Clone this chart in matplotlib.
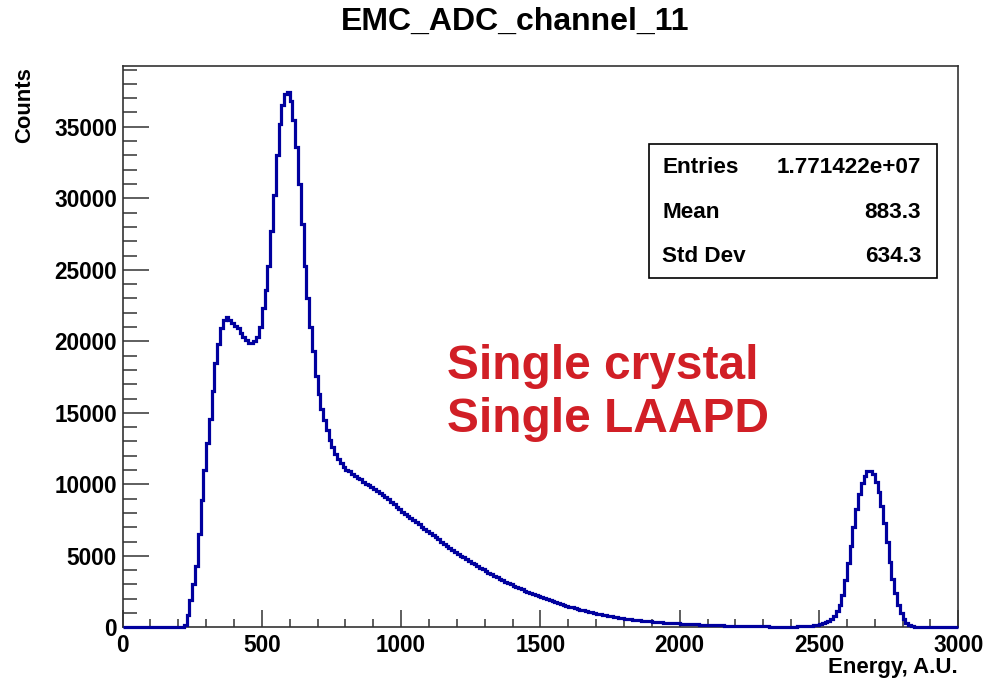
import numpy as np
import matplotlib.pyplot as plt
from matplotlib.patches import Rectangle
from matplotlib.ticker import MultipleLocator

# ADC spectrum, 10-unit bins from 0 to 3000 (one row = 100 units)
bin_width = 10
counts = [
    0, 0, 0, 0, 0, 0, 0, 0, 0, 0,
    0, 0, 0, 0, 0, 0, 0, 0, 0, 0,
    0, 10, 150, 900, 1900, 3000, 4300, 6500, 8900, 11000,
    12900, 14600, 16500, 18500, 19800, 20900, 21500, 21700, 21500, 21300,
    21100, 20900, 20600, 20300, 20100, 19900, 19900, 20000, 20300, 21000,
    22300, 23600, 25300, 27700, 30200, 33000, 35200, 36500, 37300, 37400,
    36800, 35500, 33600, 31000, 28200, 25300, 23000, 21000, 19300, 17600,
    16300, 15300, 14500, 13800, 13100, 12600, 12100, 11800, 11500, 11200,
    11000, 10900, 10750, 10600, 10450, 10350, 10200, 10050, 9950, 9850,
    9700, 9550, 9400, 9250, 9100, 8950, 8750, 8600, 8450, 8300,
    8100, 7950, 7800, 7650, 7500, 7350, 7200, 7050, 6900, 6750,
    6600, 6450, 6300, 6150, 6000, 5850, 5700, 5550, 5400, 5280,
    5150, 5020, 4900, 4780, 4650, 4520, 4400, 4280, 4160, 4050,
    3930, 3820, 3710, 3600, 3500, 3400, 3300, 3200, 3100, 3000,
    2910, 2820, 2730, 2650, 2570, 2490, 2410, 2330, 2260, 2190,
    2120, 2050, 1980, 1910, 1850, 1790, 1720, 1650, 1590, 1520,
    1460, 1400, 1340, 1290, 1240, 1190, 1140, 1090, 1050, 1010,
    970, 930, 890, 850, 810, 780, 740, 710, 680, 650,
    620, 600, 570, 550, 520, 500, 480, 460, 440, 420,
    400, 385, 370, 355, 340, 325, 310, 300, 285, 275,
    265, 255, 245, 235, 225, 215, 205, 195, 185, 178,
    170, 162, 155, 148, 140, 134, 128, 122, 116, 110,
    105, 100, 96, 92, 88, 84, 80, 76, 73, 70,
    67, 64, 62, 60, 58, 57, 56, 56, 56, 57,
    60, 62, 66, 72, 80, 90, 105, 125, 150, 185,
    230, 290, 370, 480, 620, 820, 1120, 1600, 2300, 3300,
    4500, 5700, 7000, 8300, 9300, 10100, 10600, 10900, 10950, 10700,
    10200, 9500, 8500, 7300, 6000, 4600, 3400, 2400, 1600, 1000,
    600, 330, 170, 90, 45, 20, 10, 5, 2, 1,
    0, 0, 0, 0, 0, 0, 0, 0, 0, 0,
]
edges = np.arange(len(counts) + 1) * bin_width

hist_title = "EMC_ADC_channel_11"
x_title = "Energy, A.U."
y_title = "Counts"
stats_names = ["Entries", "Mean", "Std Dev"]
stats_values = ["1.771422e+07", "883.3", "634.3"]
note_lines = ["Single crystal", "Single LAAPD"]

W, H = 986, 678
plt.rcParams["font.family"] = ["Liberation Sans", "DejaVu Sans"]
plt.rcParams["font.weight"] = "bold"

fig = plt.figure(figsize=(W / 100, H / 100), dpi=100)
ax = fig.add_axes([122.5 / W, 1 - 627.4 / H, (958.3 - 122.5) / W, (627.4 - 65.7) / H])


def fx(px):
    return px / W


def fy(py):
    return 1 - py / H


# histogram outline drawn over the frame so the zero level shows along the axis
ax.stairs(counts, edges, color="#00009e", lw=2.3, clip_on=False, zorder=3)
ax.set_xlim(0, 3000)
ax.set_ylim(0, max(counts) * 1.05)

frame = "#333333"
for side in ["left", "bottom", "top", "right"]:
    ax.spines[side].set_color(frame)
    ax.spines[side].set_linewidth(1.2)

ax.xaxis.set_major_locator(MultipleLocator(500))
ax.xaxis.set_minor_locator(MultipleLocator(100))
ax.yaxis.set_major_locator(MultipleLocator(5000))
ax.yaxis.set_minor_locator(MultipleLocator(1000))
ax.tick_params(axis="x", which="major", direction="in", length=12, width=1.1,
               color=frame, labelsize=16.3, pad=5)
ax.tick_params(axis="x", which="minor", direction="in", length=5.5, width=1.1, color=frame)
ax.tick_params(axis="y", which="major", direction="in", length=18.5, width=1.1,
               color=frame, labelsize=16.3, pad=4)
ax.tick_params(axis="y", which="minor", direction="in", length=10, width=1.1, color=frame)
for lab in ax.get_xticklabels() + ax.get_yticklabels():
    lab.set_fontweight("bold")

fig.text(fx(515), fy(22), hist_title, ha="center", va="center", fontsize=23, fontweight="bold")
fig.text(fx(958), fy(672.5), x_title, ha="right", va="baseline", fontsize=16,
         fontweight="bold")
fig.text(fx(25), fy(67), y_title, ha="center", va="top", rotation=90, fontsize=15.8,
         fontweight="bold")

# statistics box
box = Rectangle((fx(649), fy(277.7)), fx(937) - fx(649), fy(144) - fy(277.7),
                transform=fig.transFigure, fill=False, edgecolor="black", lw=1.2)
fig.patches.append(box)
for row_y, name, value in zip([168, 213, 256], stats_names, stats_values):
    fig.text(fx(662), fy(row_y), name, ha="left", va="center", fontsize=16.2, fontweight="bold")
    fig.text(fx(921), fy(row_y), value, ha="right", va="center", fontsize=16.2, fontweight="bold")

for base_y, line in zip([379, 432], note_lines):
    fig.text(fx(447), fy(base_y), line, ha="left", va="baseline", fontsize=34.5,
             fontweight="bold", color="#d11f26")

fig.savefig("out.png", dpi=100)
